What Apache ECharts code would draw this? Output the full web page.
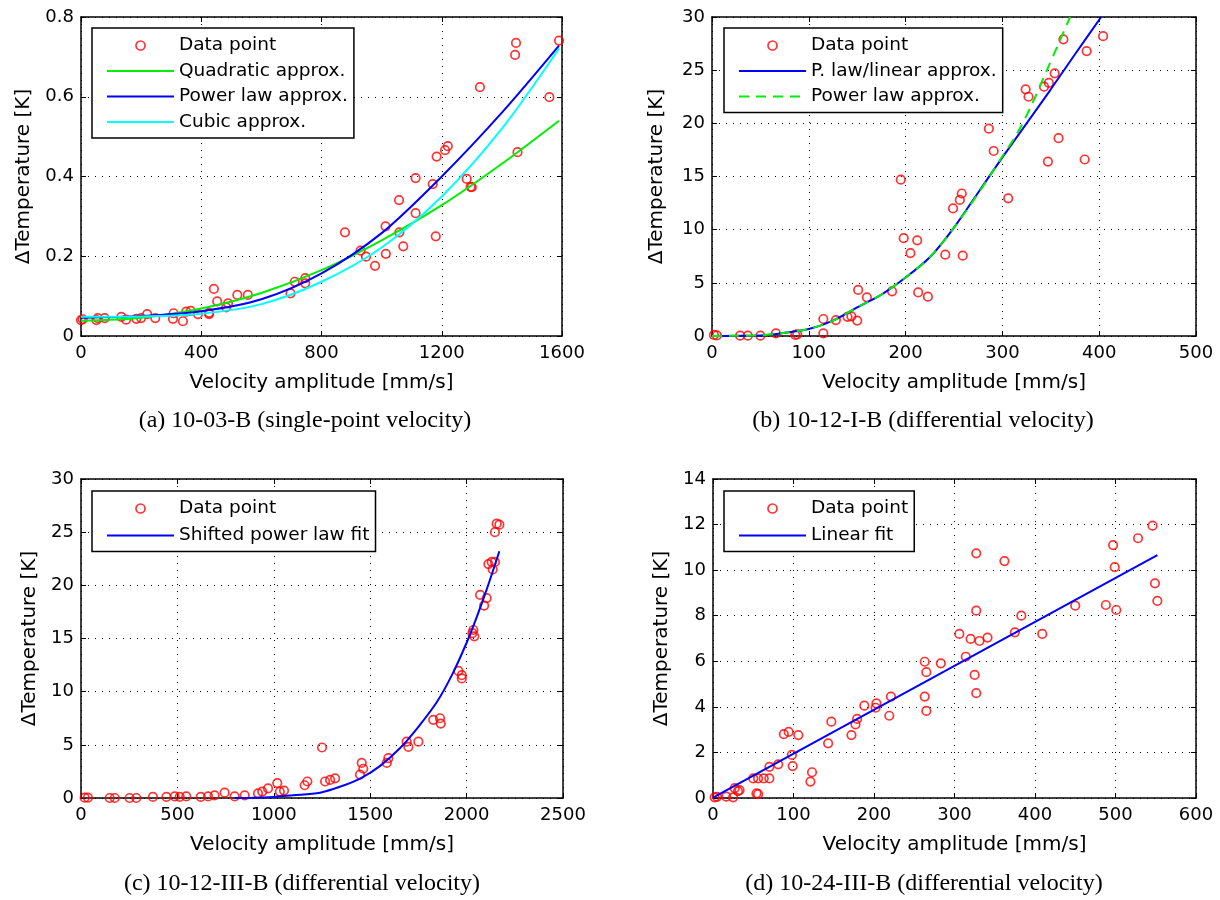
<!DOCTYPE html>
<html><head><meta charset="utf-8">
<script src="https://cdn.jsdelivr.net/npm/echarts@6/dist/echarts.min.js"></script>
<style>html,body{margin:0;padding:0;background:#fff}#c{width:1220px;height:900px}</style>
</head><body><div id="c"></div><script>
// ---------- Panel (a) ----------
const aX = [0, 6, 51, 56, 79, 134, 150, 184, 200, 220, 247, 306, 308, 339, 350, 365, 389, 426, 426, 442, 453, 483, 489, 520, 555, 697, 711, 746, 746, 878, 930, 948, 978, 1013, 1014, 1058, 1059, 1072, 1113, 1113, 1170, 1180, 1183, 1211, 1220, 1283, 1296, 1300, 1327, 1444, 1447, 1452, 1558, 1590];
const aY = [0.040, 0.042, 0.040, 0.045, 0.045, 0.048, 0.041, 0.043, 0.045, 0.055, 0.045, 0.043, 0.057, 0.037, 0.061, 0.063, 0.055, 0.055, 0.058, 0.118, 0.087, 0.072, 0.082, 0.103, 0.103, 0.107, 0.136, 0.132, 0.145, 0.260, 0.214, 0.199, 0.176, 0.275, 0.206, 0.341, 0.260, 0.225, 0.396, 0.308, 0.381, 0.250, 0.450, 0.466, 0.476, 0.394, 0.374, 0.373, 0.624, 0.705, 0.735, 0.461, 0.599, 0.741];
const aFitX = [0, 200, 400, 600, 800, 1000, 1200, 1400, 1590];
const aQuad = [0.038, 0.046, 0.069, 0.108, 0.165, 0.240, 0.328, 0.432, 0.540];
const aPow  = [0.046, 0.050, 0.062, 0.092, 0.157, 0.258, 0.400, 0.560, 0.728];
const aCub  = [0.048, 0.049, 0.056, 0.080, 0.136, 0.222, 0.350, 0.520, 0.721];

// ---------- Panel (b) ----------
const bX = [2, 5, 29, 37, 50, 66, 86, 88, 115, 115, 128, 140, 144, 150, 151, 160, 186, 195, 198, 205, 212, 213, 223, 241, 249, 256, 258, 259, 286, 291, 306, 324, 327, 343, 347, 348, 354, 358, 363, 385, 387, 404];
const bY = [0.1, 0.05, 0.03, 0.03, 0.03, 0.25, 0.1, 0.15, 1.6, 0.25, 1.5, 1.8, 1.85, 1.45, 4.33, 3.64, 4.2, 14.7, 9.2, 7.8, 9.0, 4.1, 3.7, 7.65, 12.0, 12.8, 13.4, 7.55, 19.5, 17.4, 12.95, 23.2, 22.5, 23.45, 16.4, 23.8, 24.7, 18.6, 27.9, 16.6, 26.8, 28.2];
const bLinX = [0, 25, 50, 75, 100, 125, 150, 175, 200, 225, 250, 275, 300, 325, 350, 375, 402];
const bLinY = [0, 0.02, 0.05, 0.3, 0.65, 1.45, 2.7, 3.9, 5.5, 7.4, 10.2, 13.5, 16.8, 20.0, 23.2, 26.5, 30];
const bPowX = [0, 25, 50, 75, 100, 125, 150, 175, 200, 225, 250, 275, 300, 315, 330, 345, 358, 370];
const bPowY = [0, 0.02, 0.05, 0.3, 0.65, 1.45, 2.7, 3.9, 5.5, 7.4, 10.2, 13.4, 16.9, 19.0, 21.7, 24.8, 27.5, 30];

// ---------- Panel (c) ----------
const cX = [19, 36, 149, 175, 252, 287, 373, 443, 486, 512, 546, 621, 659, 693, 745, 797, 849, 918, 940, 970, 1018, 1031, 1053, 1160, 1174, 1250, 1266, 1292, 1318, 1447, 1456, 1464, 1586, 1594, 1689, 1698, 1750, 1827, 1862, 1866, 1957, 1975, 1975, 2030, 2035, 2040, 2070, 2091, 2104, 2113, 2130, 2135, 2147, 2147, 2156, 2170];
const cY = [0.03, 0.03, 0, 0, 0, 0, 0.1, 0.1, 0.15, 0.1, 0.15, 0.1, 0.15, 0.25, 0.5, 0.15, 0.25, 0.44, 0.6, 0.9, 1.4, 0.6, 0.7, 1.2, 1.55, 4.75, 1.55, 1.7, 1.85, 2.2, 3.3, 2.75, 3.3, 3.75, 5.3, 4.8, 5.3, 7.35, 7.5, 7.0, 11.95, 11.55, 11.25, 15.5, 15.8, 15.2, 19.1, 18.1, 18.8, 22.0, 22.2, 21.5, 22.2, 25.0, 25.8, 25.7];
const cFitX = [797, 900, 1000, 1100, 1240, 1350, 1450, 1550, 1655, 1750, 1845, 1925, 2000, 2050, 2104, 2170];
const cFitY = [0, 0.02, 0.1, 0.25, 0.5, 1.1, 1.85, 3.0, 4.7, 6.7, 9.0, 11.6, 14.6, 16.9, 19.6, 23.2];

// ---------- Panel (d) ----------
const dX = [2, 5, 16.5, 25, 27, 31, 33, 50, 54, 56, 56, 63, 70, 70, 81, 88, 94, 98, 99, 106, 121, 123, 143, 147, 172, 177, 179, 188, 202, 203, 219, 221, 263, 265, 263, 265, 283, 306, 314, 320, 325, 327, 327, 327, 331, 341, 362, 375, 383, 409, 450, 488, 497, 499, 501, 528, 546, 549, 552];
const dY = [0.03, 0.05, 0.06, 0.03, 0.43, 0.3, 0.35, 0.86, 0.2, 0.17, 0.86, 0.86, 0.86, 1.37, 1.48, 2.8, 2.9, 1.89, 1.4, 2.76, 0.72, 1.13, 2.4, 3.35, 2.76, 3.23, 3.47, 4.05, 3.96, 4.15, 3.61, 4.45, 5.98, 5.52, 4.45, 3.82, 5.91, 7.2, 6.2, 6.98, 5.4, 4.6, 8.22, 10.74, 6.89, 7.04, 10.40, 7.27, 8.0, 7.2, 8.44, 8.47, 11.1, 10.13, 8.25, 11.4, 11.95, 9.42, 8.65];
const dFitX = [0, 552];
const dFitY = [0.02, 10.66];

// ---------- Axis ranges (min, max, interval) ----------
const xTicks = [[0, 1600, 400], [0, 500, 100], [0, 2500, 500], [0, 600, 100]];
const yTicks = [[0, 0.8, 0.2], [0, 30, 5], [0, 30, 5], [0, 14, 2]];
const captions = ['(a) 10-03-B (single-point velocity)', '(b) 10-12-I-B (differential velocity)', '(c) 10-12-III-B (differential velocity)', '(d) 10-24-III-B (differential velocity)'];
const xName = 'Velocity amplitude [mm/s]';
const yName = 'ΔTemperature [K]';

// ---------- Layout ----------
const layout = [
  {grid: {left: 81, top: 17, width: 481, height: 319}, yGap: 47, leg: {left: 92, top: 28, gap: 6.5}, cap: [305, 421]},
  {grid: {left: 712, top: 17, width: 484, height: 319}, yGap: 45, leg: {left: 724, top: 28, gap: 6.5}, cap: [923, 421]},
  {grid: {left: 81, top: 479, width: 482, height: 319}, yGap: 41, leg: {left: 92, top: 491, gap: 8}, cap: [302, 884]},
  {grid: {left: 713, top: 479, width: 483, height: 319}, yGap: 41, leg: {left: 724, top: 491, gap: 8}, cap: [924, 884]}
];

const FONT = 'DejaVu Sans';
const pair = (xs, ys) => xs.map((x, i) => [x, ys[i]]);
const fmt = v => String(+(+v).toFixed(6));

const grids = [], xAxes = [], yAxes = [], legends = [], graphics = [];
const splitStyle = {show: true, lineStyle: {color: '#000', type: [1, 6], width: 1}};
const lineAx = {show: true, onZero: false, lineStyle: {color: '#000', width: 1.5}};
const tickAx = {show: true, inside: true, length: 5, lineStyle: {color: '#000', width: 1}};
const labelStyle = {color: '#000', fontSize: 18, fontFamily: FONT, formatter: fmt};
const nameStyle = {color: '#000', fontSize: 20, fontFamily: FONT};

layout.forEach((L, i) => {
  grids.push(Object.assign({show: false, outerBoundsMode: 'none', containLabel: false}, L.grid));
  const [x0, x1, xi] = xTicks[i], [y0, y1, yi] = yTicks[i];
  xAxes.push({type: 'value', gridIndex: i, min: x0, max: x1, interval: xi, position: 'bottom',
    axisLine: lineAx, axisTick: tickAx, splitLine: splitStyle,
    axisLabel: Object.assign({margin: 8, showMinLabel: true, showMaxLabel: true}, labelStyle),
    name: xName, nameLocation: 'middle', nameGap: 37, nameTextStyle: nameStyle, nameMoveOverlap: false});
  xAxes.push({type: 'value', gridIndex: i, min: x0, max: x1, interval: xi, position: 'top',
    axisLine: lineAx, axisTick: tickAx, splitLine: {show: false}, axisLabel: {show: false}});
  yAxes.push({type: 'value', gridIndex: i, min: y0, max: y1, interval: yi, position: 'left',
    axisLine: lineAx, axisTick: tickAx, splitLine: splitStyle,
    axisLabel: Object.assign({margin: 7, showMinLabel: true, showMaxLabel: true}, labelStyle),
    name: yName, nameLocation: 'middle', nameRotate: 90, nameGap: L.yGap, nameTextStyle: nameStyle, nameMoveOverlap: false});
  yAxes.push({type: 'value', gridIndex: i, min: y0, max: y1, interval: yi, position: 'right',
    axisLine: lineAx, axisTick: tickAx, splitLine: {show: false}, axisLabel: {show: false}});
  graphics.push({type: 'text', x: L.cap[0], y: L.cap[1], style: {text: captions[i], fill: '#000',
    font: '24px "Liberation Serif"', textAlign: 'center', textVerticalAlign: 'middle'}});
});

const series = [];
function scatter(p, xs, ys) {
  const ai = 'abcd'.indexOf(p);
  series.push({type: 'scatter', name: p + '|Data point', xAxisIndex: 2 * ai, yAxisIndex: 2 * ai,
    data: pair(xs, ys), symbol: 'circle', symbolSize: 8.5, clip: false,
    itemStyle: {color: 'rgba(0,0,0,0)', borderColor: '#ff0000', borderWidth: 1.7}, z: 2});
}
function line(p, name, xs, ys, color, dash) {
  const ai = 'abcd'.indexOf(p);
  series.push({type: 'line', name: p + '|' + name, xAxisIndex: 2 * ai, yAxisIndex: 2 * ai,
    data: pair(xs, ys), symbol: 'none', smooth: 0.3, clip: true,
    lineStyle: {color: color, width: 2, type: dash ? [10, 7] : 'solid'}, itemStyle: {color: color}, z: 3});
}
scatter('a', aX, aY);
line('a', 'Quadratic approx.', aFitX, aQuad, '#00ee00');
line('a', 'Power law approx.', aFitX, aPow, '#0000ff');
line('a', 'Cubic approx.', aFitX, aCub, '#00ffff');
scatter('b', bX, bY);
line('b', 'P. law/linear approx.', bLinX, bLinY, '#0000ff');
line('b', 'Power law approx.', bPowX, bPowY, '#00ee00', true);
scatter('c', cX, cY);
line('c', 'Shifted power law fit', cFitX, cFitY, '#0000ff');
scatter('d', dX, dY);
line('d', 'Linear fit', dFitX, dFitY, '#0000ff');

const legNames = [
  ['a|Data point', 'a|Quadratic approx.', 'a|Power law approx.', 'a|Cubic approx.'],
  ['b|Data point', 'b|P. law/linear approx.', 'b|Power law approx.'],
  ['c|Data point', 'c|Shifted power law fit'],
  ['d|Data point', 'd|Linear fit']
];
const hiddenSym = {color: 'rgba(0,0,0,0)', borderColor: 'rgba(0,0,0,0)', borderWidth: 0};
layout.forEach((L, i) => {
  legends.push({orient: 'vertical', left: L.leg.left, top: L.leg.top,
    data: legNames[i].map(n => n.endsWith('Data point') ? {name: n} : {name: n, itemStyle: hiddenSym}),
    formatter: n => n.slice(2), itemWidth: 67, itemHeight: 9, itemGap: L.leg.gap,
    padding: [8, 6, 6.5, 14], borderColor: '#000', borderWidth: 1.5, backgroundColor: '#fff',
    selectedMode: false, itemStyle: {borderWidth: 1.7},
    textStyle: {fontFamily: FONT, fontSize: 18.5, color: '#000'}});
});

const chart = echarts.init(document.getElementById('c'), null, {renderer: 'canvas'});
chart.setOption({
  animation: false, backgroundColor: '#fff',
  grid: grids, xAxis: xAxes, yAxis: yAxes, legend: legends, series: series, graphic: graphics
});
</script></body></html>
